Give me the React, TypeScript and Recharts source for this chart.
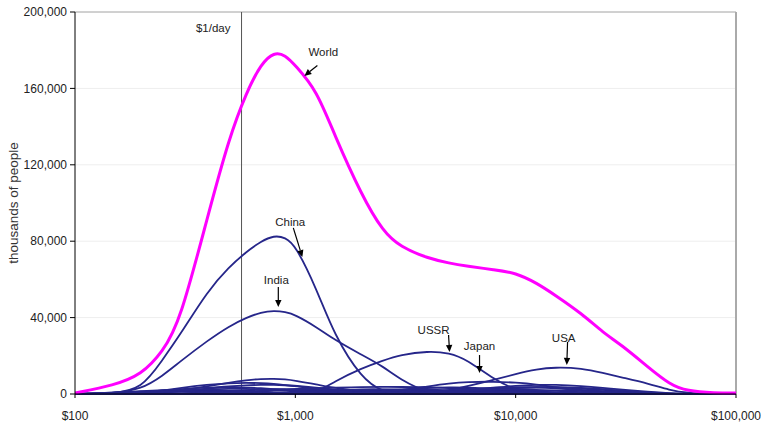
import React from "react"
import {
  LineChart,
  Line,
  XAxis,
  YAxis,
  CartesianGrid,
  ReferenceLine,
  ReferenceDot,
} from "recharts"

// income grid ($ per year, log axis)
const incomes = [
  100, 150, 200, 250, 300, 400, 500, 600, 700, 800, 900, 1000, 1250, 1500, 2000, 2500,
  3000, 4000, 5000, 6000, 8000, 10000, 12500, 15000, 20000, 25000, 30000, 40000, 50000,
  60000, 80000, 100000,
]

const xTicks = [100, 1000, 10000, 100000]
const yTicks = [0, 40000, 80000, 120000, 160000, 200000]
const povertyLine = 570

// thousands of people at each income
const world = [500, 4500, 10000, 22000, 38000, 93000, 134000, 158000, 173000, 179000, 177500, 172000, 159000, 136000, 104000, 85000, 77000, 71000, 68500, 67000, 65000, 63500, 58000, 52000, 42000, 32000, 26000, 14000, 5000, 1500, 500, 500]
const china = [0, 300, 2500, 18000, 31000, 54000, 66500, 74500, 80000, 83000, 82000, 78000, 55000, 31000, 8000, 1000, 0, 0, 0, 0, 0, 0, 0, 0, 0, 0, 0, 0, 0, 0, 0, 0]
const india = [0, 300, 2500, 9500, 17000, 28000, 35500, 40000, 42800, 43600, 43000, 41500, 35000, 28500, 20500, 14500, 7500, 500, 0, 0, 0, 0, 0, 0, 0, 0, 0, 0, 0, 0, 0, 0]
const ussr = [0, 0, 0, 0, 0, 0, 0, 0, 0, 0, 0, 0, 500, 6500, 13500, 17500, 20500, 22500, 21500, 18000, 7500, 2000, 300, 0, 0, 0, 0, 0, 0, 0, 0, 0]
const japan = [0, 0, 0, 0, 0, 0, 0, 0, 0, 0, 0, 0, 0, 0, 500, 1200, 2000, 4000, 5500, 6300, 6500, 6000, 5000, 3500, 1500, 500, 100, 0, 0, 0, 0, 0]
const usa = [0, 0, 0, 0, 0, 0, 0, 0, 0, 0, 0, 0, 0, 0, 0, 0, 0, 500, 2000, 4000, 7500, 10500, 13000, 14000, 13500, 11000, 8800, 5500, 2000, 500, 0, 0]

const indonesia = [0, 0, 200, 800, 1800, 4000, 6000, 7300, 7900, 8000, 7700, 7000, 5000, 3200, 1200, 400, 100, 0, 0, 0, 0, 0, 0, 0, 0, 0, 0, 0, 0, 0, 0, 0]
const bangladesh = [0, 100, 600, 1800, 3200, 4900, 5700, 5900, 5700, 5300, 4700, 4100, 2600, 1500, 400, 100, 0, 0, 0, 0, 0, 0, 0, 0, 0, 0, 0, 0, 0, 0, 0, 0]
const pakistan = [0, 0, 200, 700, 1400, 2900, 4000, 4600, 4800, 4800, 4600, 4300, 3300, 2300, 1000, 400, 100, 0, 0, 0, 0, 0, 0, 0, 0, 0, 0, 0, 0, 0, 0, 0]
const nigeria = [0, 200, 900, 1800, 2600, 3400, 3600, 3400, 3000, 2600, 2200, 1900, 1200, 700, 200, 0, 0, 0, 0, 0, 0, 0, 0, 0, 0, 0, 0, 0, 0, 0, 0, 0]
const ethiopia = [100, 600, 1500, 2100, 2300, 2100, 1600, 1100, 700, 400, 200, 100, 0, 0, 0, 0, 0, 0, 0, 0, 0, 0, 0, 0, 0, 0, 0, 0, 0, 0, 0, 0]
const burma = [0, 200, 800, 1500, 1900, 2000, 1700, 1300, 900, 600, 400, 200, 100, 0, 0, 0, 0, 0, 0, 0, 0, 0, 0, 0, 0, 0, 0, 0, 0, 0, 0, 0]
const congo = [200, 700, 1300, 1600, 1600, 1300, 900, 600, 400, 200, 100, 0, 0, 0, 0, 0, 0, 0, 0, 0, 0, 0, 0, 0, 0, 0, 0, 0, 0, 0, 0, 0]
const kenya = [0, 300, 700, 1000, 1200, 1300, 1200, 1000, 800, 600, 500, 400, 200, 100, 0, 0, 0, 0, 0, 0, 0, 0, 0, 0, 0, 0, 0, 0, 0, 0, 0, 0]
const vietnam = [0, 100, 500, 1100, 1700, 2500, 2800, 2700, 2400, 2000, 1600, 1300, 700, 300, 100, 0, 0, 0, 0, 0, 0, 0, 0, 0, 0, 0, 0, 0, 0, 0, 0, 0]
const philippines = [0, 0, 0, 100, 300, 900, 1500, 2000, 2300, 2500, 2600, 2600, 2400, 2000, 1200, 600, 300, 100, 0, 0, 0, 0, 0, 0, 0, 0, 0, 0, 0, 0, 0, 0]
const egypt = [0, 0, 0, 0, 100, 300, 700, 1100, 1400, 1700, 1900, 2000, 2000, 1800, 1300, 800, 500, 200, 100, 0, 0, 0, 0, 0, 0, 0, 0, 0, 0, 0, 0, 0]
const iran = [0, 0, 0, 0, 0, 0, 0, 100, 200, 300, 400, 500, 800, 1100, 1500, 1700, 1800, 1600, 1300, 900, 500, 200, 100, 0, 0, 0, 0, 0, 0, 0, 0, 0]
const colombia = [0, 0, 0, 0, 0, 0, 0, 0, 100, 200, 300, 400, 700, 1000, 1400, 1600, 1600, 1400, 1100, 800, 400, 200, 100, 0, 0, 0, 0, 0, 0, 0, 0, 0]
const brazil = [0, 0, 0, 100, 200, 500, 900, 1300, 1700, 2000, 2300, 2600, 3000, 3300, 3600, 3700, 3700, 3500, 3100, 2700, 2000, 1400, 900, 500, 200, 100, 0, 0, 0, 0, 0, 0]
const mexico = [0, 0, 0, 0, 0, 0, 0, 0, 0, 0, 0, 0, 0, 300, 900, 1600, 2300, 3200, 3500, 3400, 2800, 2000, 1200, 700, 200, 0, 0, 0, 0, 0, 0, 0]
const turkey = [0, 0, 0, 0, 0, 0, 0, 0, 0, 0, 0, 200, 600, 1100, 1900, 2400, 2500, 2300, 1800, 1300, 700, 300, 100, 0, 0, 0, 0, 0, 0, 0, 0, 0]
const thailand = [0, 0, 0, 0, 0, 0, 0, 0, 100, 300, 500, 800, 1400, 1900, 2500, 2500, 2200, 1500, 900, 500, 200, 0, 0, 0, 0, 0, 0, 0, 0, 0, 0, 0]
const poland = [0, 0, 0, 0, 0, 0, 0, 0, 0, 0, 0, 0, 100, 300, 700, 1100, 1500, 1900, 1900, 1600, 1000, 500, 200, 100, 0, 0, 0, 0, 0, 0, 0, 0]
const argentina = [0, 0, 0, 0, 0, 0, 0, 0, 0, 0, 0, 0, 100, 200, 400, 700, 1000, 1400, 1500, 1400, 1100, 700, 400, 200, 100, 0, 0, 0, 0, 0, 0, 0]
const korea = [0, 0, 0, 0, 0, 0, 0, 0, 0, 0, 0, 0, 0, 0, 200, 500, 900, 1500, 1900, 2100, 2200, 1900, 1400, 900, 400, 100, 0, 0, 0, 0, 0, 0]
const germany = [0, 0, 0, 0, 0, 0, 0, 0, 0, 0, 0, 0, 0, 0, 0, 0, 300, 800, 1500, 2200, 3300, 4300, 4800, 4900, 4200, 3200, 2300, 1100, 400, 100, 0, 0]
const uk = [0, 0, 0, 0, 0, 0, 0, 0, 0, 0, 0, 0, 0, 0, 0, 0, 200, 600, 1100, 1700, 2700, 3400, 3700, 3600, 2900, 2100, 1400, 600, 200, 0, 0, 0]
const france = [0, 0, 0, 0, 0, 0, 0, 0, 0, 0, 0, 0, 0, 0, 0, 0, 0, 400, 900, 1400, 2300, 3100, 3600, 3700, 3200, 2500, 1800, 800, 300, 100, 0, 0]
const italy = [0, 0, 0, 0, 0, 0, 0, 0, 0, 0, 0, 0, 0, 0, 0, 100, 400, 1000, 1700, 2300, 3100, 3500, 3400, 3000, 2100, 1400, 900, 300, 100, 0, 0, 0]
const spain = [0, 0, 0, 0, 0, 0, 0, 0, 0, 0, 0, 0, 0, 0, 0, 100, 300, 800, 1300, 1800, 2400, 2500, 2200, 1700, 900, 500, 200, 0, 0, 0, 0, 0]
const canada = [0, 0, 0, 0, 0, 0, 0, 0, 0, 0, 0, 0, 0, 0, 0, 0, 100, 200, 400, 600, 1000, 1500, 1900, 2000, 1700, 1200, 800, 300, 100, 0, 0, 0]

const countries: [string, number[]][] = [
  ["Indonesia", indonesia],
  ["Bangladesh", bangladesh],
  ["Pakistan", pakistan],
  ["Nigeria", nigeria],
  ["Ethiopia", ethiopia],
  ["Burma", burma],
  ["Congo", congo],
  ["Kenya", kenya],
  ["Vietnam", vietnam],
  ["Philippines", philippines],
  ["Egypt", egypt],
  ["Iran", iran],
  ["Colombia", colombia],
  ["Brazil", brazil],
  ["Mexico", mexico],
  ["Turkey", turkey],
  ["Thailand", thailand],
  ["Poland", poland],
  ["Argentina", argentina],
  ["Korea", korea],
  ["Germany", germany],
  ["UK", uk],
  ["France", france],
  ["Italy", italy],
  ["Spain", spain],
  ["Canada", canada],
  ["Japan", japan],
  ["USA", usa],
  ["USSR", ussr],
  ["India", india],
  ["China", china],
]

const data = incomes.map((income, i) => {
  const row: Record<string, number> = { income, World: world[i] }
  for (const [name, vals] of countries) row[name] = vals[i]
  return row
})

// text labels, in data units
const labels = [
  { text: "$1/day", x: 424, y: 191600 },
  { text: "World", x: 1340, y: 179000 },
  { text: "China", x: 948, y: 90000 },
  { text: "India", x: 820, y: 59700 },
  { text: "USSR", x: 4240, y: 33500 },
  { text: "Japan", x: 6855, y: 25100 },
  { text: "USA", x: 16520, y: 29300 },
]

// arrows: tail -> head, in data units
const arrows = [
  { x1: 1259, y1: 172000, x2: 1099, y2: 166500 },
  { x1: 979, y1: 87000, x2: 1076, y2: 71700 },
  { x1: 837, y1: 56000, x2: 837, y2: 45500 },
  { x1: 4960, y1: 30900, x2: 5010, y2: 22000 },
  { x1: 6855, y1: 20400, x2: 6855, y2: 11000 },
  { x1: 17200, y1: 27200, x2: 17060, y2: 15200 },
]

const FONT = "'Liberation Sans', Arial, sans-serif"
const NAVY = "#26268a"

function Arrow(props: any) {
  const { x1, y1, x2, y2 } = props
  const ang = Math.atan2(y2 - y1, x2 - x1)
  const len = 7
  const w = 3.2
  const bx = x2 - len * Math.cos(ang)
  const by = y2 - len * Math.sin(ang)
  const px = -Math.sin(ang) * w
  const py = Math.cos(ang) * w
  return (
    <g>
      <line x1={x1} y1={y1} x2={bx} y2={by} stroke="#000" strokeWidth={1.2} />
      <polygon points={`${x2},${y2} ${bx + px},${by + py} ${bx - px},${by - py}`} fill="#000" />
    </g>
  )
}

const money = (v: number) => `$${Number(v).toLocaleString("en-US")}`

export default function App() {
  return (
    <div style={{ position: "absolute", left: 0, top: 0, fontFamily: FONT }}>
      <LineChart width={761} height={423} data={data} margin={{ top: 12, right: 25, bottom: 0, left: 0 }}>
        <CartesianGrid vertical={false} stroke="#eeeeee" />
        <XAxis
          dataKey="income"
          type="number"
          scale="log"
          domain={[100, 100000]}
          allowDataOverflow
          ticks={xTicks}
          interval={0}
          tickFormatter={money}
          tick={{ fontSize: 12, fill: "#222", fontFamily: FONT }}
          tickSize={4}
          tickMargin={13}
          height={29}
          axisLine={{ stroke: "#000" }}
          tickLine={{ stroke: "#000" }}
        />
        <YAxis
          type="number"
          domain={[0, 200000]}
          ticks={yTicks}
          interval={0}
          tickFormatter={(v) => Number(v).toLocaleString("en-US")}
          tick={{ fontSize: 12, fill: "#222", fontFamily: FONT }}
          tickSize={5}
          tickMargin={3}
          width={75}
          axisLine={{ stroke: "#000" }}
          tickLine={{ stroke: "#000" }}
          label={{
            value: "thousands of people",
            angle: -90,
            position: "insideLeft",
            offset: 13,
            style: { textAnchor: "middle", fontSize: 13.5, fill: "#333", fontFamily: FONT },
          }}
        />
        <ReferenceLine y={200000} stroke="#aaa" />
        <ReferenceLine x={100000} stroke="#aaa" strokeWidth={2} />
        <ReferenceLine x={povertyLine} stroke="#555" />
        {countries.map(([name]) => (
          <Line
            key={name}
            dataKey={name}
            type="basis"
            stroke={NAVY}
            strokeWidth={1.8}
            dot={false}
            activeDot={false}
            isAnimationActive={false}
          />
        ))}
        <Line
          dataKey="World"
          type="basis"
          stroke="#ff00ff"
          strokeWidth={3}
          dot={false}
          activeDot={false}
          isAnimationActive={false}
        />
        {arrows.map((a, i) => (
          <ReferenceLine
            key={"arrow" + i}
            segment={[
              { x: a.x1, y: a.y1 },
              { x: a.x2, y: a.y2 },
            ]}
            shape={(p: any) => <Arrow {...p} />}
          />
        ))}
        {labels.map((n) => (
          <ReferenceDot
            key={n.text}
            x={n.x}
            y={n.y}
            r={0}
            fill="none"
            stroke="none"
            label={{ value: n.text, position: "center", fontSize: 11.5, fill: "#222", fontFamily: FONT }}
          />
        ))}
      </LineChart>
    </div>
  )
}
